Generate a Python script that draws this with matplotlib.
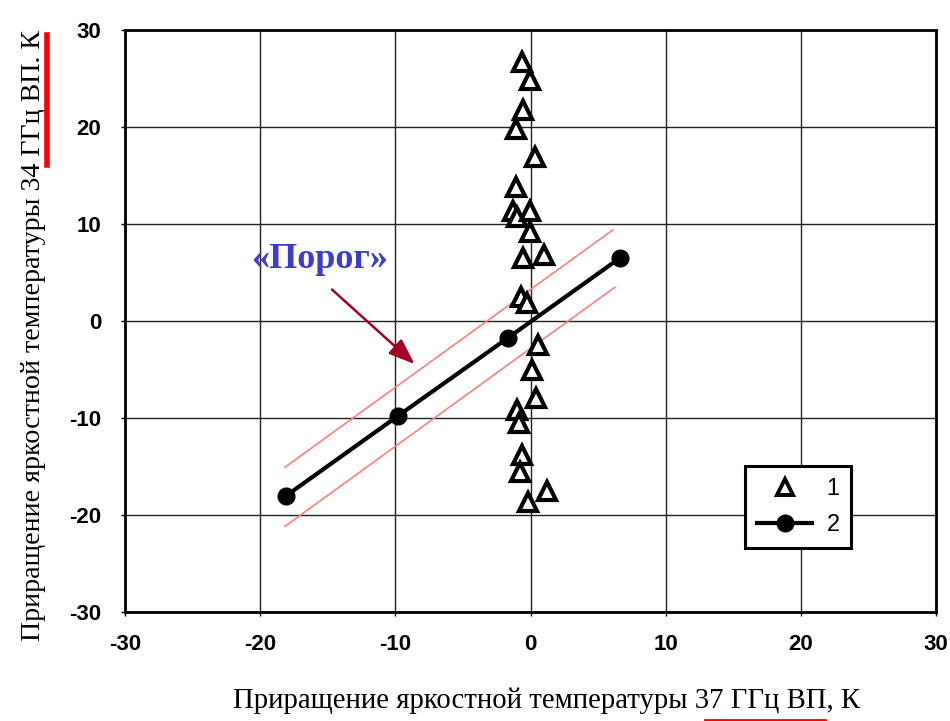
import matplotlib
matplotlib.use("Agg")
import matplotlib.pyplot as plt
from matplotlib.lines import Line2D

plt.rcParams['axes.unicode_minus'] = False

# 1: triangles (increment 37 GHz, increment 34 GHz)
tri_x = [-0.66, -0.04, -0.58, -1.08, 0.33, -1.08, -1.32, -1.0, -0.04, -0.04, -0.58, 0.99,
         -0.73, -0.27, 0.55, 0.1, 0.38, -1.0, -0.86, -0.64, -0.78, 1.19, -0.19]
tri_y = [26.7, 24.8, 21.7, 19.8, 16.9, 13.8, 11.3, 10.7, 11.3, 9.2, 6.5, 6.8,
         2.5, 1.8, -2.5, -5.1, -8.0, -9.2, -10.5, -13.8, -15.6, -17.6, -18.7]

# 2: line with circles
line_x = [-18.1, -9.8, -1.67, 6.62]
line_y = [-18.06, -9.8, -1.76, 6.49]

# threshold band
upper_x = [-18.17, 6.09]
upper_y = [-15.1, 9.38]
lower_x = [-18.17, 6.24]
lower_y = [-21.2, 3.47]

ticks = [-30, -20, -10, 0, 10, 20, 30]

fig = plt.figure(figsize=(9.5, 7.21), dpi=100)
ax = fig.add_axes([0.1316, 0.1516, 0.8537, 0.8068])

ax.set_xlim(-30, 30)
ax.set_ylim(-30, 30)
ax.set_xticks(ticks)
ax.set_yticks(ticks)
ax.grid(True, color='#222222', linewidth=1.0)
ax.set_axisbelow(True)
for s in ax.spines.values():
    s.set_linewidth(2.0)
ax.tick_params(axis='x', direction='out', length=3, width=1, pad=13)
ax.tick_params(axis='y', direction='out', length=3, width=1, pad=14)
for lab in ax.get_xticklabels() + ax.get_yticklabels():
    lab.set_fontfamily('Liberation Sans')
    lab.set_fontweight('bold')
    lab.set_fontsize(16)

ax.plot(upper_x, upper_y, color='#ff7f7f', linewidth=1.2)
ax.plot(lower_x, lower_y, color='#ff7f7f', linewidth=1.2)

ax.plot(line_x, line_y, color='black', linewidth=3, marker='o', markersize=12, zorder=3)
ax.plot(tri_x, tri_y, linestyle='none', marker='^', markersize=13, markerfacecolor='white',
        markeredgecolor='black', markeredgewidth=3, zorder=4)

ax.text(-15.58, 6.3, '«Порог»', color='#3d3dcc', fontsize=26, fontweight='bold',
        fontfamily='Liberation Serif', ha='center', va='center')
ax.annotate('', xy=(-8.42, -4.65), xytext=(-14.84, 3.42),
            arrowprops=dict(arrowstyle='-|>,head_length=1.6,head_width=0.6',
                            color='#a0002a', linewidth=1.8))

h1 = Line2D([], [], linestyle='none', marker='^', markersize=11, markerfacecolor='white',
            markeredgecolor='black', markeredgewidth=2.8)
h2 = Line2D([], [], color='black', linewidth=3, marker='o', markersize=12)
leg = ax.legend([h1, h2], ['1', '2'], loc='upper left', bbox_to_anchor=(0.7645, 0.2505),
                fancybox=False, framealpha=1, edgecolor='black', handlelength=2.35,
                prop={'family': 'Liberation Sans', 'size': 17}, borderpad=0.5,
                labelspacing=0.6, handletextpad=0.6, borderaxespad=0)
leg.get_frame().set_linewidth(2.2)

fig.text(0.575, 0.028, 'Приращение яркостной температуры 37 ГГц ВП, К',
         fontfamily='Liberation Serif', fontsize=20.7, ha='center', va='center')
fig.text(0.035, 0.535, 'Приращение яркостной температуры 34 ГГц ВП. К',
         fontfamily='Liberation Serif', fontsize=20.2, ha='center', va='center', rotation=90)

# red highlight marks
fig.add_artist(Line2D([705 / 950, 825 / 950], [0.002, 0.002], color='red', linewidth=2))
fig.add_artist(Line2D([47 / 950, 47 / 950], [1 - 35 / 721, 1 - 165 / 721], color='red', linewidth=4))

fig.savefig('out.png', dpi=100)
